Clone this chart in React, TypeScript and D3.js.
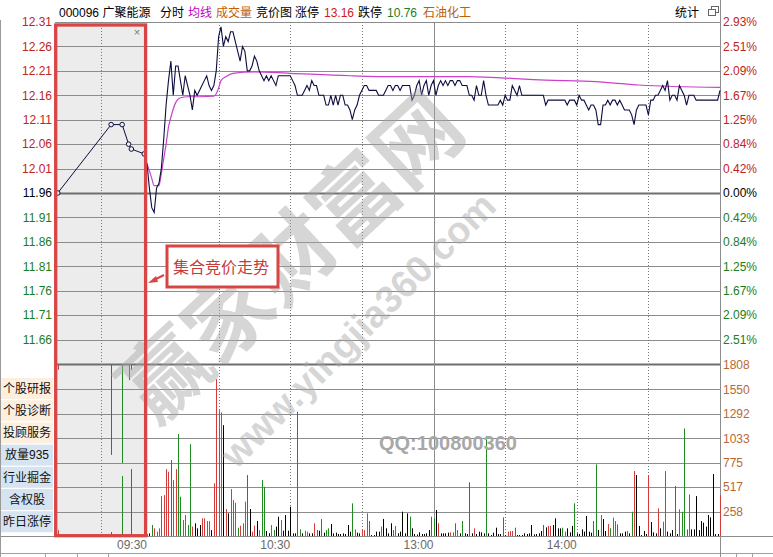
import React from "react";
import * as d3 from "d3";

// 分时图：000096 广聚能源
const prevClose = 11.96;
const priceTicks = [12.31, 12.26, 12.21, 12.16, 12.11, 12.06, 12.01, 11.96, 11.91, 11.86, 11.81, 11.76, 11.71, 11.66];
const pctLabels = ["2.93%", "2.51%", "2.09%", "1.67%", "1.25%", "0.84%", "0.42%", "0.00%", "0.42%", "0.84%", "1.25%", "1.67%", "2.09%", "2.51%"];
const volTicks = [1808, 1550, 1292, 1033, 775, 517, 258];
const timeLabels = ["09:30", "10:30", "13:00", "14:00"];
const timeLabelMinutes = [0, 60, 120, 180];
const dottedMinutes = [30, 60, 90, 150, 180, 210];
const sideButtons = ["个股研报", "个股诊断", "投顾服务", "放量935", "行业掘金", "含权股", "昨日涨停"];

// 集合竞价 (minutes after 9:15)
const auctionMinutes = [0.3, 6.1, 7.3, 8.0, 8.3, 9.7];
const auctionPrices = [11.96, 12.1, 12.1, 12.06, 12.05, 12.04];
const auctionBarMinutes = [0.3, 6.1, 7.3, 8.0, 8.3];
const auctionMatched = [60, 42, 634, 0, 708];
const auctionUnmatched = [50, 951, 1036, 160, 52];
const auctionBarColors = "rgggg";

// one value per minute, 09:30 .. 15:00
const prices = [
  12.02, 11.97, 11.93, 11.92, 11.97, 11.98, 12.01, 12.07, 12.14, 12.19,
  12.23, 12.16, 12.22, 12.22, 12.19, 12.16, 12.2, 12.18, 12.16, 12.13,
  12.17, 12.16, 12.17, 12.18, 12.19, 12.2, 12.18, 12.17, 12.18, 12.21,
  12.28, 12.3, 12.26, 12.28, 12.27, 12.29, 12.29, 12.27, 12.25, 12.23,
  12.26, 12.25, 12.21, 12.21, 12.22, 12.24, 12.23, 12.21, 12.2, 12.19,
  12.2, 12.19, 12.2, 12.19, 12.18, 12.2, 12.2, 12.2, 12.2, 12.2,
  12.2, 12.19, 12.18, 12.16, 12.16, 12.16, 12.17, 12.18, 12.17, 12.19,
  12.18, 12.18, 12.16, 12.16, 12.16, 12.14, 12.14, 12.16, 12.14, 12.16,
  12.14, 12.16, 12.16, 12.14, 12.14, 12.13, 12.11, 12.13, 12.14, 12.16,
  12.17, 12.18, 12.18, 12.17, 12.17, 12.17, 12.17, 12.16, 12.16, 12.16,
  12.17, 12.18, 12.18, 12.17, 12.18, 12.18, 12.17, 12.18, 12.18, 12.18,
  12.18, 12.15, 12.16, 12.18, 12.19, 12.16, 12.18, 12.19, 12.16, 12.18,
  12.19, 12.16, 12.18, 12.19, 12.18, 12.19, 12.18, 12.19, 12.19, 12.18,
  12.19, 12.19, 12.18, 12.18, 12.18, 12.16, 12.16, 12.15, 12.18, 12.16,
  12.16, 12.19, 12.16, 12.14, 12.14, 12.14, 12.14, 12.14, 12.15, 12.14,
  12.16, 12.15, 12.15, 12.18, 12.17, 12.16, 12.18, 12.16, 12.16, 12.16,
  12.16, 12.16, 12.16, 12.16, 12.16, 12.16, 12.16, 12.14, 12.15, 12.15,
  12.15, 12.15, 12.15, 12.15, 12.15, 12.15, 12.14, 12.15, 12.15, 12.15,
  12.14, 12.16, 12.15, 12.15, 12.14, 12.13, 12.14, 12.14, 12.13, 12.1,
  12.1, 12.14, 12.14, 12.15, 12.14, 12.15, 12.15, 12.14, 12.15, 12.14,
  12.13, 12.13, 12.13, 12.12, 12.1, 12.13, 12.14, 12.14, 12.14, 12.14,
  12.12, 12.15, 12.15, 12.16, 12.16, 12.17, 12.18, 12.17, 12.19, 12.15,
  12.16, 12.16, 12.15, 12.18, 12.17, 12.16, 12.14, 12.16, 12.16, 12.16,
  12.15, 12.15, 12.15, 12.15, 12.15, 12.15, 12.15, 12.15, 12.15, 12.15, 12.17,
];

// 均线 read at a few minutes
const avgMinutes = [0, 2, 3, 5, 6, 7, 8, 9, 10, 12, 14, 17, 22, 28, 29, 30, 31, 33, 36, 45, 60, 85, 105, 134, 167, 188, 206, 240];
const avgValues = [12.02, 11.99, 11.975, 11.975, 12.0, 12.03, 12.06, 12.095, 12.115, 12.145, 12.155, 12.157, 12.157, 12.158, 12.163, 12.175, 12.19, 12.198, 12.205, 12.208, 12.205, 12.2, 12.198, 12.198, 12.191, 12.188, 12.181, 12.176];

const volumes = [
  20, 28, 116, 81, 46, 81, 422, 433, 707, 679,
  803, 591, 707, 1077, 415, 169, 222, 116, 971, 99,
  134, 81, 116, 187, 187, 158, 158, 63, 556, 1658,
  1330, 1306, 1172, 285, 239, 496, 380, 352, 88, 109,
  134, 363, 644, 285, 46, 109, 158, 63, 591, 521,
  53, 28, 116, 63, 99, 204, 169, 56, 222, 56,
  310, 28, 28, 1313, 70, 28, 56, 46, 28, 28,
  134, 63, 56, 180, 35, 63, 81, 127, 28, 35,
  21, 21, 28, 21, 116, 46, 345, 70, 35, 28,
  63, 63, 240, 158, 10, 10, 46, 46, 99, 180,
  81, 28, 134, 63, 106, 28, 46, 257, 28, 239,
  204, 81, 21, 15, 39, 21, 21, 28, 63, 204,
  187, 275, 134, 28, 28, 28, 35, 39, 39, 134,
  63, 28, 158, 28, 21, 567, 28, 81, 21, 46,
  39, 28, 1056, 28, 10, 35, 88, 21, 21, 197,
  10, 46, 53, 53, 88, 10, 10, 10, 28, 21,
  28, 116, 18, 21, 28, 53, 116, 91, 106, 106,
  116, 187, 81, 81, 88, 46, 81, 39, 106, 345,
  28, 21, 70, 46, 211, 46, 35, 158, 757, 63,
  222, 180, 53, 127, 81, 194, 158, 123, 28, 28,
  46, 53, 28, 257, 687, 644, 106, 10, 53, 21,
  637, 148, 39, 28, 292, 81, 151, 687, 46, 28,
  63, 528, 21, 282, 257, 1137, 70, 440, 70, 70,
  422, 63, 158, 141, 99, 222, 197, 655, 20, 20, 433,
];
// r = up, g = down, k = flat
const volColors =
  "rkgrrrrrrr" + "grrggrrggr" + "kkkrrrrkrr" + "rrkrkrrrgr" + "rrgkrrkrgg" +
  "kkrgkkrkkk" + "kkkggkrrkk" + "rgkgkggkkk" + "kkkkkkgrkk" + "rrrgkkkkrk" +
  "kkkgrkkkkk" + "gkkkkkkkkg" + "gkrkkkkrrg" + "rkgkkgkrkk" + "kkgkkkkkkg" +
  "krrrgkkkkk" + "kkkkkkgkrr" + "kkkkgrkkkg" + "kkkkkkkggk" + "rkkrgrrgkk" +
  "krkgrkkkkk" + "rkkkrkrrkk" + "kgkrgggrkk" + "kkkkkkkkkkr";

const FONT = "'Liberation Sans', Arial, 'Noto Sans CJK SC', sans-serif";
const RED = "#c02424";
const GREEN = "#1b7d1b";
const BAR = { r: "#d43b3b", g: "#1f8a1f", k: "#000000" } as Record<string, string>;

export default function App() {
  const x = d3.scaleLinear().domain([0, 240]).range([147, 720]);
  const xa = d3.scaleLinear().domain([0, 10]).range([55, 147]);
  const y = d3.scaleLinear().domain([11.61, 12.31]).range([364, 22]);
  const yv = d3.scaleLinear().domain([0, 1808]).range([536, 365]);

  const priceLine = d3.line<number>().x((_, i) => x(i)).y((d) => y(d))(prices)!;
  const avgLine = d3
    .line<number>()
    .x((_, i) => x(avgMinutes[i]))
    .y((d) => y(d))
    .curve(d3.curveMonotoneX)(avgValues)!;
  const auctionLine = d3
    .line<number>()
    .x((_, i) => xa(auctionMinutes[i]))
    .y((d) => y(d))(auctionPrices)!;
  const lastA = auctionPrices.length - 1;

  const labelColor = (v: number) => (v > prevClose ? RED : v < prevClose ? GREEN : "#000");

  return (
    <svg
      width={773}
      height={557}
      style={{ position: "fixed", left: 0, top: 0, background: "#fff" }}
      fontFamily={FONT}
    >
      <rect width={773} height={557} fill="#fff" />

      {/* header */}
      <g fontSize={12}>
        <text x={59} y={16.5} fill="#000">000096 广聚能源</text>
        <text x={160} y={16.5} fill="#000">分时</text>
        <text x={188} y={16.5} fill="#c000c0">均线</text>
        <text x={216} y={16.5} fill="#c06000">成交量</text>
        <text x={256} y={16.5} fill="#000">竞价图</text>
        <text x={295} y={16.5} fill="#000">涨停</text>
        <text x={324} y={16.5} fill="#d01818">13.16</text>
        <text x={358} y={16.5} fill="#000">跌停</text>
        <text x={387} y={16.5} fill={GREEN}>10.76</text>
        <text x={423} y={16.5} fill="#c06000">石油化工</text>
        <text x={675} y={16.5} fill="#000">统计</text>
      </g>
      <rect x={711.5} y={6.5} width={7} height={6} fill="none" stroke="#666" />
      <rect x={708.5} y={9.5} width={7} height={6} fill="#fff" stroke="#666" />

      {/* auction background */}
      <rect x={56} y={22} width={90} height={514} fill="#ececec" />

      {/* price grid */}
      {priceTicks.map((t, i) => (
        <line
          key={"pg" + i}
          x1={55}
          x2={720}
          y1={Math.round(y(t)) + 0.5}
          y2={Math.round(y(t)) + 0.5}
          stroke={t === prevClose ? "#6e6e6e" : "#8c8c8c"}
          strokeWidth={t === prevClose ? 2 : 1}
        />
      ))}
      <line x1={55} x2={720} y1={364.5} y2={364.5} stroke="#6e6e6e" strokeWidth={2} />
      {volTicks.slice(1).map((t, i) => (
        <line key={"vg" + i} x1={55} x2={720} y1={Math.round(yv(t)) + 0.5} y2={Math.round(yv(t)) + 0.5} stroke="#8c8c8c" />
      ))}
      <line x1={0} x2={773} y1={536.5} y2={536.5} stroke="#8c8c8c" />
      <line x1={0} x2={773} y1={553.5} y2={553.5} stroke="#a0a0a0" />
      {[45, 77, 108, 736, 752].map((v) => (
        <line key={"bt" + v} x1={v + 0.5} x2={v + 0.5} y1={553} y2={557} stroke="#a0a0a0" />
      ))}

      {/* vertical time lines */}
      {dottedMinutes.map((m) => (
        <line
          key={"vd" + m}
          x1={Math.round(x(m)) + 0.5}
          x2={Math.round(x(m)) + 0.5}
          y1={22}
          y2={536}
          stroke="#777"
          strokeDasharray="1,2"
        />
      ))}
      <line x1={Math.round(xa(5)) + 0.5} x2={Math.round(xa(5)) + 0.5} y1={22} y2={536} stroke="#777" strokeDasharray="1,2" />
      <line x1={Math.round(x(120)) + 0.5} x2={Math.round(x(120)) + 0.5} y1={22} y2={536} stroke="#8c8c8c" />
      <line x1={720.5} x2={720.5} y1={0} y2={557} stroke="#8c8c8c" />
      <line x1={0.5} x2={0.5} y1={20} y2={557} stroke="#9a9a9a" />

      {/* axis labels */}
      <g fontSize={12}>
        {priceTicks.map((t, i) => (
          <text key={"pl" + i} x={52} y={y(t)} dy="0.36em" textAnchor="end" fill={labelColor(t)}>
            {t.toFixed(2)}
          </text>
        ))}
        {pctLabels.map((p, i) => (
          <text key={"pc" + i} x={723} y={y(priceTicks[i])} dy="0.36em" fill={labelColor(priceTicks[i])}>
            {p}
          </text>
        ))}
        {volTicks.map((t, i) => (
          <text key={"vl" + i} x={723} y={yv(t)} dy="0.36em" fill="#b8692f">
            {t}
          </text>
        ))}
        {timeLabels.map((l, i) => (
          <text key={"tl" + i} x={x(timeLabelMinutes[i])} y={549} textAnchor="end" fill="#6a6a6a">
            {l}
          </text>
        ))}
      </g>

      {/* side buttons */}
      {sideButtons.map((b, i) => (
        <g key={"sb" + i}>
          <rect x={1} y={378 + i * 22.2} width={52} height={21} fill={i < 3 ? "#fcefdf" : "#d6e4f1"} />
          <text x={27} y={388.5 + i * 22.2} dy="0.36em" textAnchor="middle" fontSize={12} fill="#111">
            {b}
          </text>
        </g>
      ))}

      {/* volume bars */}
      {volumes.map((v, i) => (
        <line
          key={"vb" + i}
          x1={Math.round(x(i)) + 0.5}
          x2={Math.round(x(i)) + 0.5}
          y1={yv(0)}
          y2={yv(v)}
          stroke={BAR[volColors[i]]}
        />
      ))}
      {auctionBarMinutes.map((m, i) => (
        <g key={"ab" + i}>
          {auctionMatched[i] > 0 && (
            <line x1={Math.round(xa(m)) + 0.5} x2={Math.round(xa(m)) + 0.5} y1={yv(0)} y2={yv(auctionMatched[i])} stroke={BAR[auctionBarColors[i]]} />
          )}
          <line
            x1={Math.round(xa(m)) + 0.5}
            x2={Math.round(xa(m)) + 0.5}
            y1={yv(1808)}
            y2={yv(1808) + (yv(0) - yv(auctionUnmatched[i]))}
            stroke={BAR[auctionBarColors[i]]}
          />
        </g>
      ))}

      {/* price & average lines */}
      <path d={avgLine} fill="none" stroke="#cc40cc" strokeWidth={1.2} />
      <path d={priceLine} fill="none" stroke="#0d0d40" strokeWidth={1.1} />
      <path d={auctionLine} fill="none" stroke="#0d0d40" />
      <line
        x1={xa(auctionMinutes[lastA])}
        y1={y(auctionPrices[lastA])}
        x2={x(0)}
        y2={y(prices[0])}
        stroke="#0d0d40"
      />
      {auctionMinutes.map((m, i) => (
        <circle key={"ac" + i} cx={xa(m)} cy={y(auctionPrices[i])} r={2.3} fill="#ececec" stroke="#0d0d40" />
      ))}

      {/* watermark */}
      <g fill="#a6a6a6" opacity={0.45} fontWeight="bold">
        <text x={292} y={258} fontSize={86} textAnchor="middle" dominantBaseline="central" transform="rotate(-43 292 258)">
          赢家财富网
        </text>
        <text x={358} y={330} fontSize={38} textAnchor="middle" dominantBaseline="central" transform="rotate(-45 358 330)">
          www.yingjia360.com
        </text>
      </g>
      <text x={379} y={450} fontSize={20} fontWeight="bold" fill="#a8a8a8">QQ:100800360</text>

      {/* auction frame and note */}
      <rect x={55.7} y={25} width={89.9} height={510.7} fill="none" stroke="#d94444" strokeWidth={3.3} />
      <text x={137} y={32} dy="0.36em" textAnchor="middle" fontSize={11} fill="#777">×</text>
      <rect x={167} y={246} width={111} height={41} fill="#fff" stroke="#d94444" strokeWidth={3} />
      <text x={173} y={273} fontSize={16} fill="#c83a3a">集合竞价走势</text>
      <line x1={164} y1={275} x2={154} y2={280} stroke="#d94444" strokeWidth={2} />
      <polygon points="148,283 156,276 158,282" fill="#d94444" />
    </svg>
  );
}
